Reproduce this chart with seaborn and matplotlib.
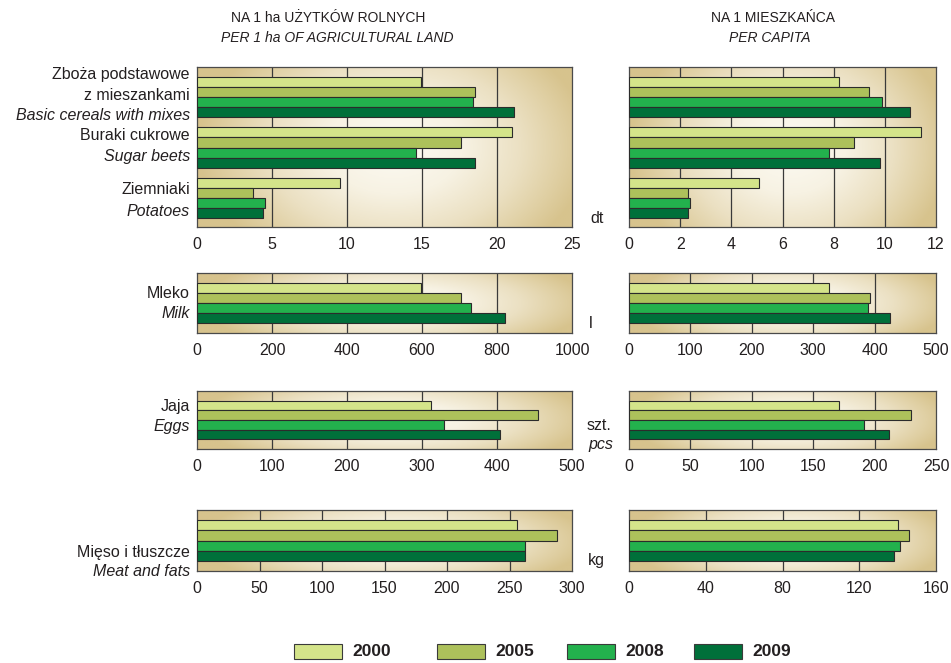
import numpy as np
import pandas as pd
import matplotlib
matplotlib.use("Agg")
import matplotlib.pyplot as plt
import matplotlib.patches as mpatches
from matplotlib.colors import LinearSegmentedColormap
import seaborn as sns

sns.set_theme(style="white")
FONT = ["Liberation Sans Narrow", "Liberation Sans", "DejaVu Sans"]
plt.rcParams["font.family"] = FONT
plt.rcParams["text.color"] = "#231f20"

years = ["2000", "2005", "2008", "2009"]
year_colors = ["#d4e48a", "#adc15b", "#23b14d", "#00703a"]

# Crops (dt)
crops = ["Zboża", "Buraki", "Ziemniaki"]
crops_per_ha = {
    "2000": [14.9, 21.0, 9.5],
    "2005": [18.5, 17.6, 3.7],
    "2008": [18.4, 14.6, 4.5],
    "2009": [21.1, 18.5, 4.4],
}
crops_per_capita = {
    "2000": [8.2, 11.4, 5.1],
    "2005": [9.4, 8.8, 2.3],
    "2008": [9.9, 7.8, 2.4],
    "2009": [11.0, 9.8, 2.3],
}
# Milk (l)
milk_per_ha = [597, 704, 730, 821]
milk_per_capita = [325, 392, 390, 425]
# Eggs (pcs)
eggs_per_ha = [312, 455, 329, 404]
eggs_per_capita = [171, 230, 191, 212]
# Meat and fats (kg)
meat_per_ha = [256, 288, 262, 262]
meat_per_capita = [140, 146, 141, 138]

W, H = 951, 663
fig = plt.figure(figsize=(W / 100, H / 100), dpi=100)

bg_cmap = LinearSegmentedColormap.from_list(
    "paper",
    [(0.0, "#fdfbf4"), (0.35, "#f7f2e3"), (0.65, "#ebe0c2"), (0.85, "#e0d0a4"), (1.0, "#d7c38d")],
)
gx, gy = np.meshgrid(np.linspace(-1, 1, 300), np.linspace(-1, 1, 120))
radial = np.clip(np.sqrt(((gx - 0.05) / 1.0) ** 2 + (gy / 1.6) ** 2) / 1.05, 0, 1)


def px_axes(x0, y0, x1, y1):
    return fig.add_axes([x0 / W, 1 - y1 / H, (x1 - x0) / W, (y1 - y0) / H])


def frame(ax, xmax, ticks):
    ax.imshow(radial, cmap=bg_cmap, extent=(0, 1, 0, 1), transform=ax.transAxes,
              aspect="auto", zorder=0, vmin=0, vmax=1)
    ax.set_xlim(0, xmax)
    ax.set_xticks(ticks)
    ax.set_xticklabels([str(t) for t in ticks], fontsize=11.5, color="#231f20")
    for t in ticks[1:-1]:
        ax.axvline(t, color="#3a3a3a", lw=0.9, zorder=1)
    ax.set_yticks([])
    ax.set_ylabel("")
    ax.set_xlabel("")
    ax.tick_params(axis="x", length=0, pad=7)
    for s in ax.spines.values():
        s.set_visible(True)
        s.set_color("#4a4a4a")
        s.set_linewidth(0.9)
    if ax.get_legend() is not None:
        ax.get_legend().remove()


def grouped(ax, cats, data):
    df = pd.DataFrame(
        [(c, y, data[y][i]) for y in years for i, c in enumerate(cats)],
        columns=["cat", "year", "value"],
    )
    sns.barplot(data=df, y="cat", x="value", hue="year", hue_order=years,
                palette=year_colors, orient="h", width=0.8, ax=ax,
                edgecolor="#2b2b2b", linewidth=0.8, saturation=1, zorder=3)
    ax.set_ylim(len(cats) - 1 + 0.58, -0.6)


def single(ax, values):
    df = pd.DataFrame({"cat": ["x"] * 4, "year": years, "value": values})
    sns.barplot(data=df, y="cat", x="value", hue="year", hue_order=years,
                palette=year_colors, orient="h", width=0.8, ax=ax,
                edgecolor="#2b2b2b", linewidth=0.8, saturation=1, zorder=3)
    ax.set_ylim(0.6, -0.6)


LX0, LX1 = 197, 572
RX0, RX1 = 629, 936
rows = [(67, 227), (273, 333), (391, 449), (510, 571)]

ax = px_axes(LX0, rows[0][0], LX1, rows[0][1])
grouped(ax, crops, crops_per_ha)
frame(ax, 25, [0, 5, 10, 15, 20, 25])
ax = px_axes(RX0, rows[0][0], RX1, rows[0][1])
grouped(ax, crops, crops_per_capita)
frame(ax, 12, [0, 2, 4, 6, 8, 10, 12])

ax = px_axes(LX0, rows[1][0], LX1, rows[1][1])
single(ax, milk_per_ha)
frame(ax, 1000, [0, 200, 400, 600, 800, 1000])
ax = px_axes(RX0, rows[1][0], RX1, rows[1][1])
single(ax, milk_per_capita)
frame(ax, 500, [0, 100, 200, 300, 400, 500])

ax = px_axes(LX0, rows[2][0], LX1, rows[2][1])
single(ax, eggs_per_ha)
frame(ax, 500, [0, 100, 200, 300, 400, 500])
ax = px_axes(RX0, rows[2][0], RX1, rows[2][1])
single(ax, eggs_per_capita)
frame(ax, 250, [0, 50, 100, 150, 200, 250])

ax = px_axes(LX0, rows[3][0], LX1, rows[3][1])
single(ax, meat_per_ha)
frame(ax, 300, [0, 50, 100, 150, 200, 250, 300])
ax = px_axes(RX0, rows[3][0], RX1, rows[3][1])
single(ax, meat_per_capita)
frame(ax, 160, [0, 40, 80, 120, 160])


def ftext(x, y, s, ha="right", style="normal", size=11.5, weight="normal"):
    fig.text(x / W, 1 - y / H, s, ha=ha, va="center", fontsize=size,
             style=style, weight=weight, family=FONT)


# column headings
ftext(328, 18, "NA 1 ha UŻYTKÓW ROLNYCH", ha="center", size=10)
ftext(337, 38, "PER 1 ha OF AGRICULTURAL LAND", ha="center", style="italic", size=10)
ftext(773, 18, "NA 1 MIESZKAŃCA", ha="center", size=10)
ftext(770, 38, "PER CAPITA", ha="center", style="italic", size=10)

# row labels
LAB = 190
ftext(LAB, 75, "Zboża podstawowe")
ftext(LAB, 95, "z mieszankami")
ftext(LAB, 115, "Basic cereals with mixes", style="italic")
ftext(LAB, 135, "Buraki cukrowe")
ftext(LAB, 156, "Sugar beets", style="italic")
ftext(LAB, 190, "Ziemniaki")
ftext(LAB, 211, "Potatoes", style="italic")
ftext(LAB, 293, "Mleko")
ftext(LAB, 313, "Milk", style="italic")
ftext(LAB, 406, "Jaja")
ftext(LAB, 426, "Eggs", style="italic")
ftext(LAB, 552, "Mięso i tłuszcze")
ftext(LAB, 572, "Meat and fats", style="italic")

# units
ftext(590, 219, "dt", ha="left")
ftext(589, 324, "l", ha="left")
ftext(587, 425, "szt.", ha="left")
ftext(588, 445, "pcs", ha="left", style="italic")
ftext(588, 561, "kg", ha="left")

# legend
leg_x = [294, 437, 567, 694]
for x, yr, c in zip(leg_x, years, year_colors):
    fig.patches.append(mpatches.Rectangle((x / W, 1 - 659 / H), 48 / W, 15 / H,
                                          transform=fig.transFigure, facecolor=c,
                                          edgecolor="#3a3a3a", linewidth=0.8))
    ftext(x + 58, 651, yr, ha="left", size=12.5, weight="bold")

fig.savefig("out.png", dpi=100, facecolor="white")
